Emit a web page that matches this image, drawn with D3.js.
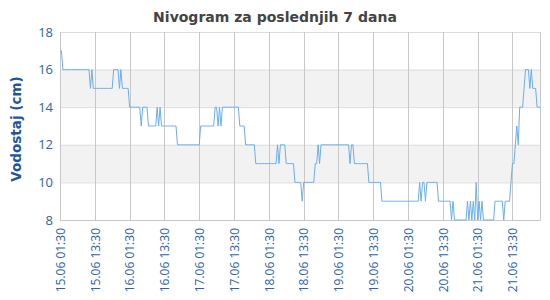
<!DOCTYPE html>
<html><head><meta charset="utf-8">
<script src="https://cdn.jsdelivr.net/npm/d3@7"></script>
<style>body{margin:0;background:#fff}</style>
</head><body><svg id="c" width="550" height="300"></svg>
<script>
const chartTitle = "Nivogram za poslednjih 7 dana";
const yTitle = "Vodostaj (cm)";
const startLabel = "15.06 01:30";
const stepMinutes = 30;
const yTicks = [8, 10, 12, 14, 16, 18];
const bands = [[10, 12], [14, 16]];
const xTickLabels = ["15.06 01:30","15.06 13:30","16.06 01:30","16.06 13:30","17.06 01:30","17.06 13:30","18.06 01:30","18.06 13:30","19.06 01:30","19.06 13:30","20.06 01:30","20.06 13:30","21.06 01:30","21.06 13:30"];
const levels = [
17,17,16,16,16,16,16,16,16,16,16,16,16,16,16,16,16,16,16,16,16,15,16,15,
15,15,15,15,15,15,15,15,15,15,15,15,15,16,16,16,16,15,16,15,15,15,15,15,
14,14,14,14,14,14,14,14,13,14,14,14,14,13,13,13,13,13,13,14,13,14,13,13,
13,13,13,13,13,13,13,13,13,12,12,12,12,12,12,12,12,12,12,12,12,12,12,12,
12,13,13,13,13,13,13,13,13,13,13,14,14,13,14,13,14,14,14,14,14,14,14,14,
14,14,14,14,13,13,13,13,12,12,12,12,12,12,12,11,11,11,11,11,11,11,11,11,
11,11,11,11,11,11,12,11,12,12,12,12,11,11,11,11,11,11,10,10,10,10,10,9,
10,10,10,10,10,10,10,10,11,11,12,11,12,12,12,12,12,12,12,12,12,12,12,12,
12,12,12,12,12,12,12,12,11,12,12,11,11,11,11,11,11,11,11,11,11,10,10,10,
10,10,10,10,10,10,9,9,9,9,9,9,9,9,9,9,9,9,9,9,9,9,9,9,
9,9,9,9,9,9,9,9,10,9,10,10,9,10,10,10,10,10,10,10,10,9,9,9,
9,9,9,9,9,9,8,9,8,8,8,8,8,8,8,8,8,9,8,9,8,9,8,10,
8,9,8,9,8,8,8,8,8,8,8,8,9,9,9,9,9,9,8,9,9,9,9,10,
11,11,12,13,12,14,14,14,15,16,16,16,15,16,15,15,15,14,14,14
];

const fmt = d3.timeParse("%d.%m %H:%M");
const start = fmt(startLabel);
const data = levels.map((v, i) => ({t: d3.timeMinute.offset(start, i * stepMinutes), v}));
const tickDates = xTickLabels.map(fmt);

const W = 550, H = 300;
const m = {l: 60, r: 10, t: 32, b: 80};
const svg = d3.select("#c");
const x = d3.scaleTime().domain(d3.extent(data, d => d.t)).range([m.l, W - m.r]);
const y = d3.scaleLinear().domain([8, 18]).range([H - m.b, m.t]);

// bands
svg.append("g").selectAll("rect").data(bands).join("rect")
  .attr("x", m.l).attr("width", W - m.r - m.l)
  .attr("y", d => y(d[1])).attr("height", d => y(d[0]) - y(d[1]))
  .attr("fill", "#f2f2f2");

// horizontal grid
svg.append("g").selectAll("line").data(yTicks).join("line")
  .attr("x1", m.l).attr("x2", W - m.r)
  .attr("y1", d => y(d) + 0.5).attr("y2", d => y(d) + 0.5)
  .attr("stroke", "#dcdcdc").attr("stroke-width", 1);

// vertical grid
svg.append("g").selectAll("line").data(tickDates).join("line")
  .attr("x1", d => Math.round(x(d)) + 0.5).attr("x2", d => Math.round(x(d)) + 0.5)
  .attr("y1", m.t).attr("y2", H - m.b)
  .attr("stroke", "#c8c8c8").attr("stroke-width", 1);

// right border & bottom axis line
svg.append("line").attr("x1", W - m.r + 0.5).attr("x2", W - m.r + 0.5)
  .attr("y1", m.t).attr("y2", H - m.b).attr("stroke", "#c8c8c8");
svg.append("line").attr("x1", m.l).attr("x2", W - m.r + 0.5)
  .attr("y1", H - m.b + 0.5).attr("y2", H - m.b + 0.5).attr("stroke", "#c8c8c8");

// line
svg.append("path").datum(data)
  .attr("d", d3.line().x(d => x(d.t)).y(d => y(d.v)))
  .attr("fill", "none").attr("stroke", "#6aaef0").attr("stroke-width", 1);

// y axis
const ya = svg.append("g").attr("transform", `translate(${m.l},0)`)
  .call(d3.axisLeft(y).tickValues(yTicks).tickSize(0).tickPadding(7).tickFormat(d3.format("d")));
ya.select(".domain").remove();
ya.selectAll("text").attr("fill", "#2c63ad").style("font-family", "'Open Sans', sans-serif").style("font-size", "13px");

// x axis
const xa = svg.append("g").attr("transform", `translate(0,${H - m.b})`)
  .call(d3.axisBottom(x).tickValues(tickDates).tickSize(0).tickFormat((d, i) => xTickLabels[i]));
xa.select(".domain").remove();
xa.selectAll("text")
  .attr("fill", "#2c63ad").style("font-family", "'Open Sans', sans-serif").style("font-size", "12px")
  .attr("text-anchor", "end").attr("transform", "rotate(-90)")
  .attr("x", -8).attr("y", 0).attr("dy", "0.35em");

// titles
svg.append("text").attr("x", 275).attr("y", 22).attr("text-anchor", "middle")
  .attr("fill", "#444").style("font-family", "'DejaVu Sans', sans-serif").style("font-weight", "bold").style("font-size", "14px")
  .text(chartTitle);
svg.append("text").attr("transform", `translate(21,129) rotate(-90)`).attr("text-anchor", "middle")
  .attr("fill", "#1f55a0").style("font-family", "'DejaVu Sans', sans-serif").style("font-weight", "bold").style("font-size", "13.5px")
  .text(yTitle);
</script></body></html>
